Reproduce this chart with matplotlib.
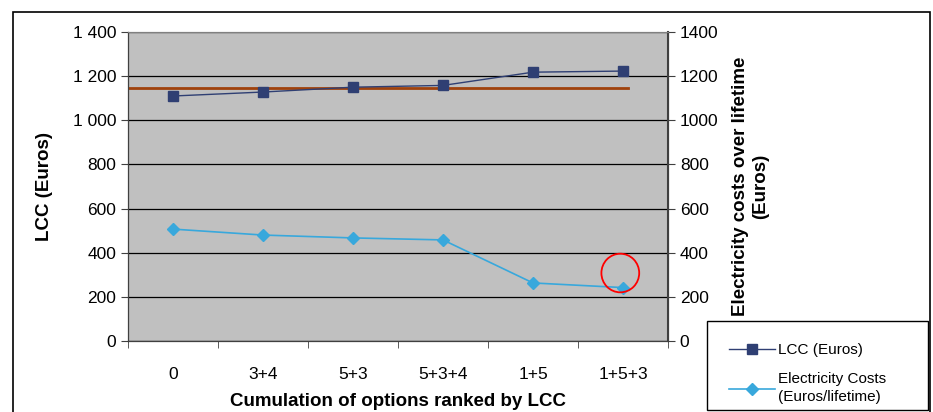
import matplotlib
matplotlib.use("Agg")
import matplotlib.pyplot as plt
from matplotlib.patches import Rectangle, Ellipse
from matplotlib.ticker import FuncFormatter, FixedLocator

plt.rcParams['font.family'] = ['Liberation Sans', 'DejaVu Sans']

# Data
options = ['0', '3+4', '5+3', '5+3+4', '1+5', '1+5+3']
lcc = [1110, 1128, 1150, 1158, 1218, 1223]
elec = [507, 480, 467, 458, 263, 242]
reference_lcc = 1146

fig = plt.figure(figsize=(9.33, 4.12), dpi=100)
ax = fig.add_axes([128/933, 71/412, 540/933, 309/412])
ax2 = ax.twinx()

x = list(range(len(options)))
ax.set_facecolor('#c0c0c0')
ax.set_xlim(-0.5, 5.5)
ax.set_ylim(0, 1400)
ax2.set_ylim(0, 1400)

ax.set_yticks(range(0, 1401, 200))
ax2.set_yticks(range(0, 1401, 200))
ax.yaxis.set_major_formatter(FuncFormatter(lambda v, p: f"{int(v):,}".replace(',', ' ')))
ax.grid(axis='y', color='black', linewidth=0.9)
ax.set_axisbelow(True)

# reference line (baseline LCC)
ax.plot([-0.5, 5.05], [reference_lcc, reference_lcc], color='#a0420c', linewidth=2, zorder=3)

l1, = ax.plot(x, lcc, color='#2f3f73', marker='s', markersize=7, linewidth=1, zorder=4,
              label='LCC (Euros)')
l2, = ax2.plot(x, elec, color='#38a8dc', marker='D', markersize=6, linewidth=1.2, zorder=4,
               label='Electricity Costs\n(Euros/lifetime)')

# red circle around last point
circ = Ellipse((4.97, 308), width=0.42, height=175, fill=False, edgecolor='red', linewidth=1.3,
               zorder=5)
ax2.add_patch(circ)

ax.set_xticks(x)
ax.set_xticklabels(options, fontsize=12.5)
ax.tick_params(axis='x', which='major', length=0, pad=19)
ax.xaxis.set_minor_locator(FixedLocator([i + 0.5 for i in range(-1, 6)]))
ax.tick_params(axis='x', which='minor', length=5, direction='out', color='#404040')
ax.tick_params(axis='y', labelsize=12.5, length=5, color='#404040')
ax2.tick_params(axis='y', labelsize=12.5, length=5, color='#404040')

ax.spines['top'].set_color('#808080')
ax2.spines['top'].set_color('#808080')
ax2.spines['left'].set_color('#404040')
ax2.spines['right'].set_color('#404040')
ax2.spines['bottom'].set_color('#404040')
ax2.spines['right'].set_linewidth(1.5)

ax.set_xlabel('Cumulation of options ranked by LCC', fontsize=13.5, fontweight='bold',
              labelpad=8)
ax.set_ylabel('LCC (Euros)', fontsize=13.5, fontweight='bold', labelpad=14)
ax2.set_ylabel('Electricity costs over lifetime\n(Euros)', fontsize=13.5, fontweight='bold',
               labelpad=10, linespacing=1.25)

leg = fig.legend(handles=[l1, l2], loc='upper left',
                 bbox_to_anchor=(707/933, 0, 221/933, 91/412),
                 mode='expand', frameon=False, fontsize=11,
                 handlelength=3, borderaxespad=0, borderpad=1.45, handletextpad=0.2,
                 labelspacing=1.0)
for t in leg.get_texts():
    t.set_linespacing(1.35)

# legend box
fig.patches.append(Rectangle((707/933, 2/412), 221/933, 89/412, transform=fig.transFigure,
                             fill=False, edgecolor='black', linewidth=1.0))

# outer chart border
fig.patches.append(Rectangle((13/933, -0.05), 917/933, 1.05 - 12/412, transform=fig.transFigure,
                             fill=False, edgecolor='black', linewidth=1.2))

fig.savefig('out.png', dpi=100)
